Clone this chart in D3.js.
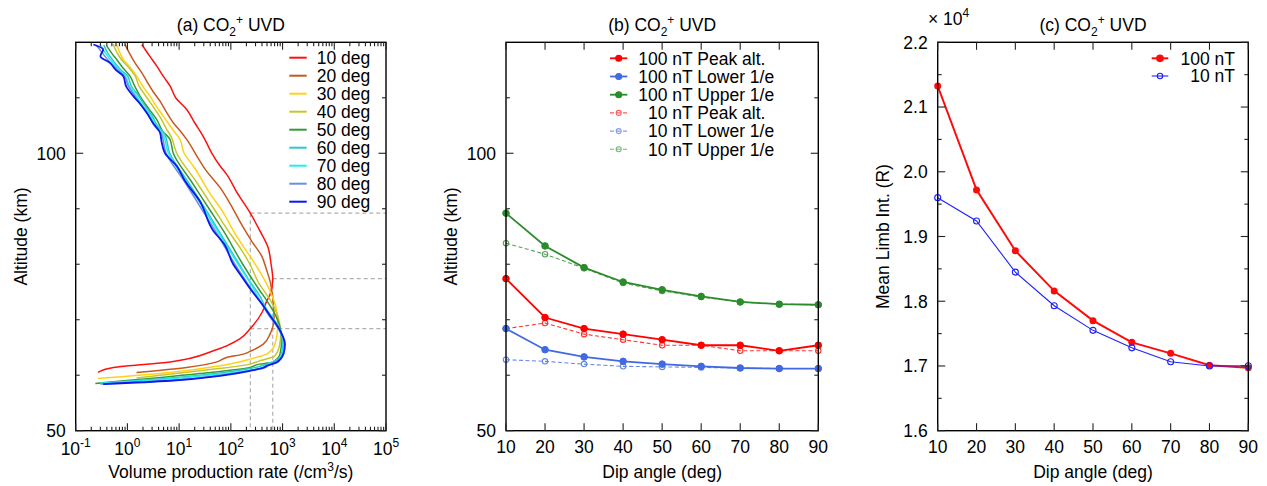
<!DOCTYPE html>
<html>
<head>
<meta charset="utf-8">
<script src="https://cdn.jsdelivr.net/npm/d3@7"></script>
<style>
  html, body { margin: 0; padding: 0; background: #fff; }
  svg { display: block; }
  text { font-family: "Liberation Sans", Arial, Helvetica, sans-serif; fill: #000; }
</style>
</head>
<body>
<svg id="fig" width="1267" height="486"></svg>
<script>
// ---- (a) volume production rate profiles: [altitude km, rate /cm3/s] per dip angle ----
const dipLabels = ["10 deg", "20 deg", "30 deg", "40 deg", "50 deg", "60 deg", "70 deg", "80 deg", "90 deg"];
const prof10 = [[119.6,1.9],[117.5,2.7],[115.7,3.7],[113.8,5.0],[112.1,6.7],[110,8.6],[107.9,14],[105.5,20],[103.1,29],[100,43],[97.7,62],[96.2,83],[93,130],[89.2,238],[86,365],[83,525],[80,600],[77.4,646],[74.6,575],[73.4,495],[71.3,400],[68.4,238],[66.6,151],[64.4,46],[62.4,6.7],[61.4,0.54],[60.5,0.27]];
const prof20 = [[119.6,0.9],[118,1.1],[116.3,1.4],[114.5,1.9],[113,2.36],[111,3.2],[109.4,4.27],[107.5,5.6],[105.5,7.7],[104,10.5],[102.5,14],[99.5,22],[97.1,32],[93.8,62],[90,110],[87,165],[84,260],[81.5,394],[79,490],[77,571],[74,646],[70.4,686],[67.4,571],[65.6,424],[64.4,250],[63.8,174],[63.2,83],[62.4,54],[61.4,14],[60.5,1.5]];
const prof30 = [[119.6,0.62],[118,0.72],[116.9,0.83],[115.2,1.2],[113.9,1.51],[112,2.0],[110.3,2.73],[108.5,3.6],[106.7,4.94],[104.5,7.2],[102.5,10.4],[100,12.5],[97.7,18.8],[93,38],[89,75],[86,112],[83,180],[80.6,269],[78,400],[75.2,571],[71.6,769],[68.4,800],[65.6,713],[63.8,490],[62.9,234],[61.7,62],[60.5,6.6],[59.4,0.27]];
const prof40 = [[119.7,0.53],[118.5,0.6],[117,0.75],[115.5,1.05],[114,1.4],[112,1.7],[110.5,2.2],[108.5,3.1],[106.5,4.3],[104.5,5.6],[103,7.0],[100,9.0],[95,21],[90,47],[86,89],[83,150],[80,234],[76.8,338],[73.1,617],[70.5,820],[67.4,920],[65.5,880],[63.5,713],[62.5,338],[62,234],[60.8,25],[59.5,1.5]];
const prof50 = [[119.3,0.4],[118,0.5],[116.9,0.62],[115.5,0.8],[113.9,1.12],[112,1.4],[110.3,1.75],[108,2.6],[106.1,3.68],[104,4.8],[102.5,6.65],[100,7.7],[95,17],[90,38],[86,72],[80,170],[75.4,354],[73.4,500],[70,800],[66.4,962],[63.8,891],[62.3,617],[62,354],[61.4,234],[60.3,25],[58.5,0.24]];
const prof60 = [[119.5,0.35],[118,0.42],[116.5,0.55],[115,0.75],[114,1.0],[112,1.2],[110.5,1.6],[108.5,2.2],[107,2.9],[105,3.8],[103.5,5.2],[100,6.6],[95,14.5],[90,32],[85,68],[80,145],[77,230],[74.2,368],[72,480],[69,800],[65.4,1000],[63.8,960],[62.8,800],[62,500],[61.6,368],[61.2,234],[60.4,62],[59.5,7],[58.6,0.3]];
const prof70 = [[119.5,0.3],[118,0.38],[116.5,0.5],[115,0.7],[114,0.9],[112,1.1],[110.5,1.45],[108.5,2.0],[107,2.7],[105,3.5],[103.5,4.8],[100,6.2],[95,13.5],[90,30],[85,64],[80,138],[76,260],[73.2,383],[72,470],[69,810],[65.4,1040],[64,1000],[63,850],[62,530],[61.3,383],[60.9,234],[60.2,62],[59.3,6],[58.5,0.3]];
const prof80 = [[119.5,0.25],[118.2,0.32],[116.5,0.45],[115,0.65],[114,0.85],[112,1.05],[110.5,1.35],[108.5,1.9],[107,2.5],[105,3.3],[103.5,4.5],[100,5.6],[95,12.5],[90,27],[85,58],[80,120],[76,230],[72.8,400],[71,520],[68.5,820],[66,1060],[64.4,1090],[63.2,950],[62.2,640],[61.2,400],[60.8,234],[60,62],[59,6],[58.4,0.3]];
const prof90 = [[119.6,0.22],[118.7,0.34],[117.5,0.3],[116.3,0.46],[115,0.6],[113.9,0.83],[112,0.95],[110.3,1.3],[108.8,1.8],[107.3,2.36],[105.5,3.1],[103.7,4.27],[102,4.6],[100,5.33],[97.7,9.0],[95,13],[91.4,25],[86,46],[83.6,75],[80,111],[78.2,151],[75.5,240],[72.7,410],[70.5,600],[68.6,828],[65.6,1114],[63.8,1033],[62.3,769],[61.8,520],[61.3,410],[60.8,234],[59.9,62],[59,6.7],[58.4,0.34]];
// reference marks for the 10 deg profile: peak rate and its 1/e level
const refPeakRate = 646;
const refEFoldRate = 238;

// ---- (b) characteristic altitudes (km) vs dip angle ----
const dipAngles = [10, 20, 30, 40, 50, 60, 70, 80, 90];
const peak100  = [77.4, 70.4, 68.4, 67.4, 66.4, 65.4, 65.4, 64.4, 65.4];
const lower100 = [68.4, 64.6, 63.3, 62.5, 62.0, 61.6, 61.3, 61.2, 61.2];
const upper100 = [89.2, 83.3, 79.4, 76.8, 75.4, 74.2, 73.2, 72.8, 72.7];
const peak10   = [68.4, 69.4, 67.4, 66.4, 65.4, 65.4, 64.4, 64.4, 64.4];
const lower10  = [62.8, 62.5, 62.0, 61.6, 61.5, 61.4, 61.3, 61.2, 61.2];
const upper10  = [83.8, 81.8, 79.3, 76.6, 75.2, 74.1, 73.2, 72.8, 72.7];
const legendB  = ["100 nT Peak alt.", "100 nT Lower 1/e", "100 nT Upper 1/e", "10 nT Peak alt.", "10 nT Lower 1/e", "10 nT Upper 1/e"];

// ---- (c) mean limb intensity (R) vs dip angle ----
const limb100 = [21325, 19720, 18780, 18160, 17700, 17365, 17195, 17010, 16973];
const limb10  = [19600, 19240, 18450, 17930, 17550, 17280, 17066, 17000, 17004];
const legendC = ["100 nT", "10 nT"];

// tick values
const altMajor = [50, 100];
const altMinor = [60, 70, 80, 90, 110];
const rateMajorExp = [-1, 0, 1, 2, 3, 4, 5];
const dipTicks = [10, 20, 30, 40, 50, 60, 70, 80, 90];
const limbMajor = [16000, 17000, 18000, 19000, 20000, 21000, 22000];
const limbMinor = [16500, 17500, 18500, 19500, 20500, 21500];

const svg = d3.select("#fig");
svg.append("rect").attr("width", 1267).attr("height", 486).attr("fill", "#fff");

const FS = 17.5;
const plotTop = 42.3, plotBottom = 430.7;
const panels = {
  a: { l: 75.7, r: 386 },
  b: { l: 506, r: 818.3 },
  c: { l: 937.7, r: 1248.3 }
};

function frame(g, p) {
  g.append("rect").attr("x", p.l).attr("y", plotTop).attr("width", p.r - p.l).attr("height", plotBottom - plotTop)
    .attr("fill", "none").attr("stroke", "#000").attr("stroke-width", 1.4);
}
function xTicks(g, x, vals, len) {
  vals.forEach(v => {
    const px = x(v);
    g.append("line").attr("x1", px).attr("x2", px).attr("y1", plotBottom).attr("y2", plotBottom - len).attr("stroke", "#222").attr("stroke-width", 1.1);
    g.append("line").attr("x1", px).attr("x2", px).attr("y1", plotTop).attr("y2", plotTop + len).attr("stroke", "#222").attr("stroke-width", 1.1);
  });
}
function yTicks(g, y, p, vals, len) {
  vals.forEach(v => {
    const py = y(v);
    g.append("line").attr("x1", p.l).attr("x2", p.l + len).attr("y1", py).attr("y2", py).attr("stroke", "#222").attr("stroke-width", 1.1);
    g.append("line").attr("x1", p.r).attr("x2", p.r - len).attr("y1", py).attr("y2", py).attr("stroke", "#222").attr("stroke-width", 1.1);
  });
}
function title(cx, letter) {
  const t = svg.append("text").attr("x", cx).attr("y", 31).attr("text-anchor", "middle").attr("font-size", FS);
  t.append("tspan").text("(" + letter + ") CO");
  t.append("tspan").attr("font-size", 12).attr("dy", 5).text("2");
  t.append("tspan").attr("font-size", 12).attr("dy", -12).text("+");
  t.append("tspan").attr("dy", 7).text(" UVD");
}
function yLabel(x, text) {
  svg.append("text").attr("transform", `translate(${x},${(plotTop + plotBottom) / 2}) rotate(-90)`)
    .attr("text-anchor", "middle").attr("font-size", FS).text(text);
}
function xLabel(cx, text) {
  return svg.append("text").attr("x", cx).attr("y", 478).attr("text-anchor", "middle").attr("font-size", FS).text(text);
}

// =================== panel (a) ===================
{
  const p = panels.a;
  const x = d3.scaleLog().domain([0.1, 1e5]).range([p.l, p.r]);
  const y = d3.scaleLinear().domain([50, 120]).range([plotBottom, plotTop]);
  const g = svg.append("g");
  const colors = ["#ff1010", "#c45a20", "#ffd21a", "#c6c62a", "#359a35", "#30c8c8", "#22eeee", "#6a8fe0", "#0a18f0"];
  const profs = [prof10, prof20, prof30, prof40, prof50, prof60, prof70, prof80, prof90];

  svg.append("clipPath").attr("id", "clipA").append("rect")
    .attr("x", p.l).attr("y", plotTop).attr("width", p.r - p.l).attr("height", plotBottom - plotTop);

  // dashed reference lines
  const ref = g.append("g").attr("stroke", "#b0b0b0").attr("stroke-width", 1.2).attr("stroke-dasharray", "4,3").attr("fill", "none");
  ref.append("line").attr("x1", x(refEFoldRate)).attr("x2", x(refEFoldRate)).attr("y1", y(upper100[0])).attr("y2", plotBottom);
  ref.append("line").attr("x1", x(refPeakRate)).attr("x2", x(refPeakRate)).attr("y1", y(peak100[0])).attr("y2", plotBottom);
  ref.append("line").attr("x1", x(refEFoldRate)).attr("x2", p.r).attr("y1", y(upper100[0])).attr("y2", y(upper100[0]));
  ref.append("line").attr("x1", x(refPeakRate)).attr("x2", p.r).attr("y1", y(peak100[0])).attr("y2", y(peak100[0]));
  ref.append("line").attr("x1", x(refEFoldRate)).attr("x2", p.r).attr("y1", y(lower100[0])).attr("y2", y(lower100[0]));

  // profiles are monotone in altitude, so a y-monotone spline keeps them smooth without overshoot
  const line = d3.line().x(d => x(d[1])).y(d => y(d[0])).curve(d3.curveMonotoneY);
  const curves = g.append("g").attr("clip-path", "url(#clipA)");
  profs.forEach((pr, i) => {
    curves.append("path").attr("d", line(pr)).attr("fill", "none").attr("stroke", colors[i])
      .attr("stroke-width", i === 8 ? 1.8 : 1.5).attr("stroke-linejoin", "round");
  });

  frame(g, p);
  const minors = [];
  for (let e = -1; e < 5; e++) for (let m = 2; m <= 9; m++) minors.push(m * Math.pow(10, e));
  xTicks(g, x, minors, 4);
  xTicks(g, x, rateMajorExp.map(e => Math.pow(10, e)), 7.5);
  yTicks(g, y, p, altMinor, 4);
  yTicks(g, y, p, altMajor, 7.5);

  rateMajorExp.forEach(e => {
    const t = svg.append("text").attr("x", x(Math.pow(10, e))).attr("y", 455).attr("text-anchor", "middle").attr("font-size", FS);
    t.append("tspan").text("10");
    t.append("tspan").attr("font-size", 12).attr("dy", -8).text(e < 0 ? "-" + Math.abs(e) : String(e));
  });
  altMajor.forEach(v => {
    svg.append("text").attr("x", p.l - 10).attr("y", y(v)).attr("dy", "0.36em").attr("text-anchor", "end").attr("font-size", FS).text(v);
  });

  // legend
  dipLabels.forEach((lab, i) => {
    const ly = 57.7 + 18 * i;
    svg.append("line").attr("x1", 289.3).attr("x2", 306.7).attr("y1", ly).attr("y2", ly).attr("stroke", colors[i]).attr("stroke-width", 2);
    svg.append("text").attr("x", 316.7).attr("y", ly).attr("dy", "0.36em").attr("font-size", FS).text(lab);
  });

  title((p.l + p.r) / 2, "a");
  yLabel(27, "Altitude (km)");
  const xl = svg.append("text").attr("x", (p.l + p.r) / 2).attr("y", 478).attr("text-anchor", "middle").attr("font-size", FS);
  xl.append("tspan").text("Volume production rate (/cm");
  xl.append("tspan").attr("font-size", 12).attr("dy", -7).text("3");
  xl.append("tspan").attr("dy", 7).text("/s)");
}

// =================== panel (b) ===================
{
  const p = panels.b;
  const x = d3.scaleLinear().domain([10, 90]).range([p.l, p.r]);
  const y = d3.scaleLinear().domain([50, 120]).range([plotBottom, plotTop]);
  const g = svg.append("g");
  const red = "#ff0000", blue = "#4169e1", green = "#2b8c2b";
  const series = [
    { v: peak100,  c: red,   solid: true },
    { v: lower100, c: blue,  solid: true },
    { v: upper100, c: green, solid: true },
    { v: peak10,   c: red,   solid: false },
    { v: lower10,  c: blue,  solid: false },
    { v: upper10,  c: green, solid: false }
  ];
  const line = d3.line().x((d, i) => x(dipAngles[i])).y(d => y(d));
  // dashed 10 nT first, solid 100 nT on top
  [3, 4, 5, 0, 1, 2].forEach(k => {
    const s = series[k];
    const grp = g.append("g").attr("opacity", s.solid ? 1 : 0.8);
    grp.append("path").attr("d", line(s.v)).attr("fill", "none").attr("stroke", s.c)
      .attr("stroke-width", s.solid ? 1.8 : 1.1).attr("stroke-dasharray", s.solid ? null : "4,2.5");
    s.v.forEach((d, i) => {
      grp.append("circle").attr("cx", x(dipAngles[i])).attr("cy", y(d)).attr("r", s.solid ? 3.3 : 2.7)
        .attr("fill", s.solid ? s.c : "none").attr("stroke", s.c).attr("stroke-width", s.solid ? 1 : 1.1);
    });
  });

  frame(g, p);
  xTicks(g, x, dipTicks, 7.5);
  yTicks(g, y, p, altMinor, 4);
  yTicks(g, y, p, altMajor, 7.5);
  dipTicks.forEach(v => {
    svg.append("text").attr("x", x(v)).attr("y", 453).attr("text-anchor", "middle").attr("font-size", FS).text(v);
  });
  altMajor.forEach(v => {
    svg.append("text").attr("x", p.l - 10).attr("y", y(v)).attr("dy", "0.36em").attr("text-anchor", "end").attr("font-size", FS).text(v);
  });

  legendB.forEach((lab, i) => {
    const s = series[i];
    const ly = 58.3 + 18.2 * i;
    const lg = svg.append("g").attr("opacity", s.solid ? 1 : 0.65);
    lg.append("line").attr("x1", 610).attr("x2", 627.3).attr("y1", ly).attr("y2", ly).attr("stroke", s.c)
      .attr("stroke-width", s.solid ? 1.8 : 1.1).attr("stroke-dasharray", s.solid ? null : "4,2.5");
    lg.append("circle").attr("cx", 618.7).attr("cy", ly).attr("r", s.solid ? 3 : 2.5)
      .attr("fill", s.solid ? s.c : "none").attr("stroke", s.c).attr("stroke-width", 1.1);
    svg.append("text").attr("x", s.solid ? 638.3 : 648).attr("y", ly).attr("dy", "0.36em").attr("font-size", FS).text(lab);
  });

  title((p.l + p.r) / 2, "b");
  yLabel(457, "Altitude (km)");
  xLabel((p.l + p.r) / 2, "Dip angle (deg)");
}

// =================== panel (c) ===================
{
  const p = panels.c;
  const x = d3.scaleLinear().domain([10, 90]).range([p.l, p.r]);
  const y = d3.scaleLinear().domain([16000, 22000]).range([plotBottom, plotTop]);
  const g = svg.append("g");
  const red = "#ff0a0a", blue = "#2020ff";
  const line = d3.line().x((d, i) => x(dipAngles[i])).y(d => y(d));

  g.append("path").attr("d", line(limb100)).attr("fill", "none").attr("stroke", red).attr("stroke-width", 2);
  g.append("path").attr("d", line(limb10)).attr("fill", "none").attr("stroke", blue).attr("stroke-width", 1.1);
  limb100.forEach((d, i) => {
    g.append("circle").attr("cx", x(dipAngles[i])).attr("cy", y(d)).attr("r", 3.5).attr("fill", red);
  });
  limb10.forEach((d, i) => {
    g.append("circle").attr("cx", x(dipAngles[i])).attr("cy", y(d)).attr("r", 3).attr("fill", "none")
      .attr("stroke", blue).attr("stroke-width", 1.1);
  });

  frame(g, p);
  xTicks(g, x, dipTicks, 7.5);
  yTicks(g, y, p, limbMinor, 4);
  yTicks(g, y, p, limbMajor, 7.5);
  dipTicks.forEach(v => {
    svg.append("text").attr("x", x(v)).attr("y", 453).attr("text-anchor", "middle").attr("font-size", FS).text(v);
  });
  limbMajor.forEach(v => {
    svg.append("text").attr("x", p.l - 10).attr("y", y(v)).attr("dy", "0.36em").attr("text-anchor", "end").attr("font-size", FS).text((v / 1e4).toFixed(1));
  });
  const ex = svg.append("text").attr("x", 928).attr("y", 25).attr("font-size", FS);
  ex.append("tspan").text("\u00d7 10");
  ex.append("tspan").attr("font-size", 12).attr("dy", -8).text("4");

  // legend
  [[red, true], [blue, false]].forEach(([c, filled], i) => {
    const ly = 58.3 + 17.7 * i;
    svg.append("line").attr("x1", 1151.7).attr("x2", 1168.3).attr("y1", ly).attr("y2", ly).attr("stroke", c).attr("stroke-width", filled ? 2 : 1.1);
    svg.append("circle").attr("cx", 1160).attr("cy", ly).attr("r", filled ? 3.3 : 2.7)
      .attr("fill", filled ? c : "none").attr("stroke", c).attr("stroke-width", 1.1);
    svg.append("text").attr("x", 1235).attr("y", ly).attr("dy", "0.36em").attr("text-anchor", "end").attr("font-size", FS).text(legendC[i]);
  });

  title((p.l + p.r) / 2, "c");
  yLabel(889, "Mean Limb Int. (R)");
  xLabel((p.l + p.r) / 2, "Dip angle (deg)");
}
</script>
</body>
</html>
